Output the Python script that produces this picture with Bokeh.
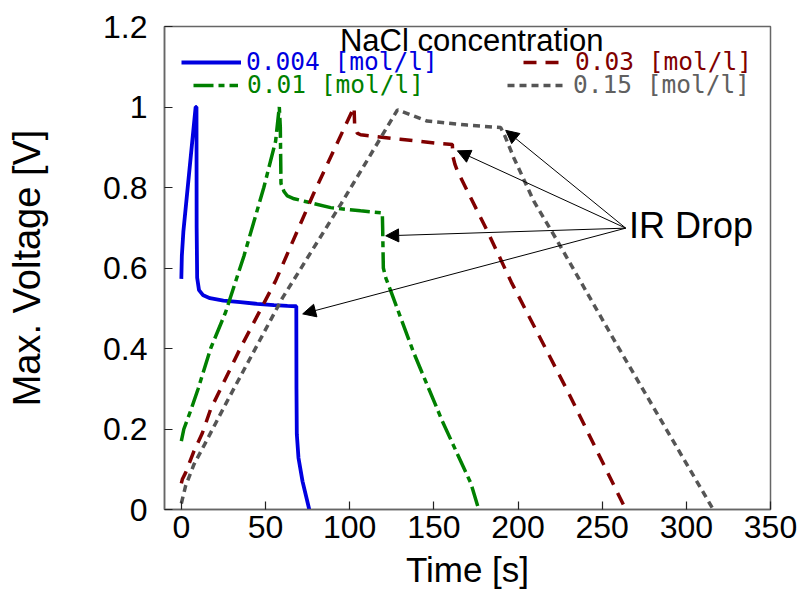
from bokeh.plotting import figure
from bokeh.models import FixedTicker, Legend, LegendItem, Label, Arrow, NormalHead, Range1d
from bokeh.embed import file_html
from bokeh.resources import INLINE

# ---- data ----
x_ticks = [0, 50, 100, 150, 200, 250, 300, 350]
y_ticks = [0, 0.2, 0.4, 0.6, 0.8, 1.0, 1.2]
y_tick_labels = ["0", "0.2", "0.4", "0.6", "0.8", "1", "1.2"]

blue_t = [0, 0.3, 1.2, 8.5, 9.0, 9.1, 9.4, 10.5, 13, 17, 25, 35, 45, 55, 63, 68.3, 68.4, 68.6, 69.6, 72, 76]
blue_v = [0.573, 0.63, 0.69, 1.0, 1.0, 0.7, 0.576, 0.545, 0.532, 0.525, 0.519, 0.515, 0.511, 0.508, 0.506, 0.505, 0.3, 0.187, 0.128, 0.07, 0.0]

green_t = [0, 1.5, 5.5, 10, 17.4, 26.3, 37.2, 49, 56, 58.2, 58.8, 59.2, 61, 63, 67, 73, 88.7, 106.5, 119.4, 119.6, 120, 121.5, 124.4, 138, 155, 172, 176.7]
green_v = [0.17, 0.2, 0.245, 0.3, 0.4, 0.49, 0.63, 0.8, 0.915, 1.0, 0.95, 0.81, 0.79, 0.779, 0.772, 0.766, 0.75, 0.742, 0.737, 0.7, 0.6, 0.575, 0.543, 0.39, 0.22, 0.065, 0.0]

red_t = [0, 0.6, 2.5, 7.5, 12.5, 17.4, 35.2, 56, 78.6, 102.6, 103.0, 104.5, 106.5, 112.5, 130, 152, 161, 161.3, 162.5, 164, 182, 196, 230, 264]
red_v = [0.065, 0.075, 0.091, 0.145, 0.19, 0.249, 0.402, 0.568, 0.785, 1.0, 0.95, 0.935, 0.931, 0.928, 0.92, 0.91, 0.907, 0.878, 0.858, 0.841, 0.69, 0.565, 0.29, 0.0]

gray_t = [0, 2.5, 7.5, 14, 26.7, 60, 95, 128.4, 146, 170, 189.7, 192, 197.5, 209.4, 223.4, 260, 316]
gray_v = [0.015, 0.058, 0.112, 0.163, 0.265, 0.525, 0.76, 0.993, 0.965, 0.955, 0.949, 0.93, 0.874, 0.766, 0.667, 0.4, 0.0]

labels = ["0.004 [mol/l]", "0.01 [mol/l]", "0.03 [mol/l]", "0.15 [mol/l]"]

# IR drop annotation: common start point and the four arrow tips
ir_start = (264.0, 0.699)
ir_tips_t = [192.7, 164.0, 121.4, 72.1]
ir_tips_v = [0.942, 0.891, 0.680, 0.486]
ir_text_pos = (266.0, 0.706)
title_pos = (172.5, 1.164)

FONT = "Liberation Sans"

p = figure(width=804, height=597, x_range=Range1d(-10, 350), y_range=Range1d(0, 1.2),
           output_backend="svg", toolbar_location=None,
           min_border_left=164, min_border_right=34, min_border_top=26, min_border_bottom=88)
p.xgrid.visible = False
p.ygrid.visible = False
p.outline_line_color = "#666666"
p.outline_line_width = 1.5
p.background_fill_color = "white"

r_blue = p.line(blue_t, blue_v, line_color="#0000e0", line_width=3.8)
r_green = p.line(green_t, green_v, line_color="#008000", line_width=3.5, line_dash="20 5 6 5")
r_red = p.line(red_t, red_v, line_color="#800000", line_width=3.5, line_dash="13 9")
r_gray = p.line(gray_t, gray_v, line_color="#555555", line_width=3.5, line_dash="7 5")

for ax in (p.xaxis[0], p.yaxis[0]):
    ax.major_tick_in = 8
    ax.major_tick_out = 0
    ax.minor_tick_in = 0
    ax.minor_tick_out = 0
    ax.axis_line_color = "#666666"
    ax.axis_line_width = 1.5
    ax.major_tick_line_color = "#222222"
    ax.major_tick_line_width = 1.2
    ax.major_label_text_font = FONT
    ax.major_label_text_font_size = "32px"
    ax.major_label_text_color = "black"
    ax.axis_label_text_font = FONT
    ax.axis_label_text_font_style = "normal"
    ax.axis_label_text_color = "black"

p.xaxis.ticker = FixedTicker(ticks=x_ticks)
p.yaxis.ticker = FixedTicker(ticks=y_ticks)
p.yaxis.major_label_overrides = dict(zip(y_ticks, y_tick_labels))
p.xaxis.axis_label = "Time [s]"
p.yaxis.axis_label = "Max. Voltage [V]"
p.xaxis.axis_label_text_font_size = "35px"
p.yaxis.axis_label_text_font_size = "38px"
p.xaxis.major_label_standoff = 6
p.xaxis.axis_label_standoff = 9
p.yaxis.major_label_standoff = 17
p.yaxis.axis_label_standoff = 52

# legends (one per entry so each label gets its own colour)
leg_specs = [
    (r_blue, labels[0], "#0000e0", (17, 432.7), 60, 5),
    (r_green, labels[1], "#008000", (29, 410.0), 45, 9),
    (r_red, labels[2], "#800000", (359, 432.7), 42, 10),
    (r_gray, labels[3], "#606060", (343, 410.0), 59, 7),
]
for rend, lab, col, loc, gw, so in leg_specs:
    lg = Legend(items=[LegendItem(label=lab, renderers=[rend])], location=loc,
                label_text_color=col, label_text_font="DejaVu Sans Mono",
                label_text_font_size="24.5px", glyph_width=gw, glyph_height=20,
                label_height=20, label_standoff=so, padding=0, margin=0, spacing=0,
                background_fill_alpha=0, border_line_alpha=0)
    p.add_layout(lg)

p.add_layout(Label(x=title_pos[0], y=title_pos[1], text="NaCl concentration",
                   text_align="center", text_baseline="alphabetic",
                   text_font=FONT, text_font_size="31px", text_color="black"))

for tt, vv in zip(ir_tips_t, ir_tips_v):
    p.add_layout(Arrow(end=NormalHead(size=13, fill_color="black", line_color="black"),
                       x_start=ir_start[0], y_start=ir_start[1], x_end=tt, y_end=vv,
                       line_color="black", line_width=1))

p.add_layout(Label(x=ir_text_pos[0], y=ir_text_pos[1], text="IR Drop",
                   text_align="left", text_baseline="alphabetic",
                   text_font=FONT, text_font_size="36px", text_color="black"))

open("out.html", "w").write(file_html(p, INLINE))
